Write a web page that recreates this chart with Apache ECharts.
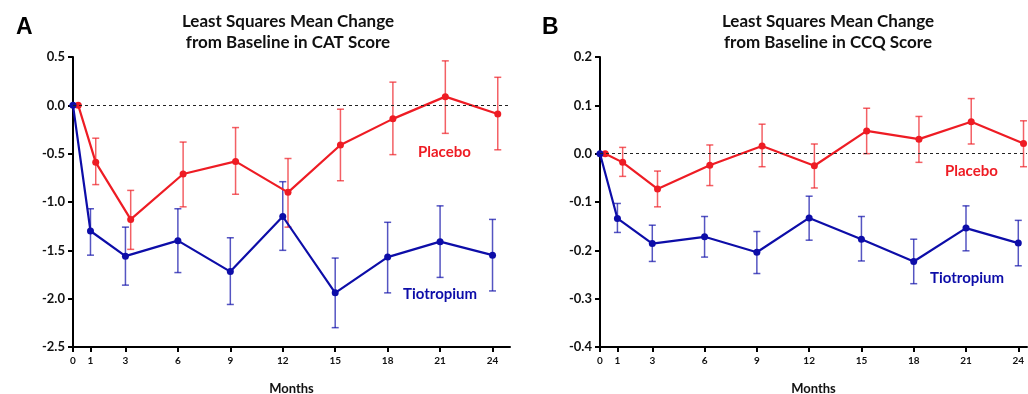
<!DOCTYPE html>
<html>
<head>
<meta charset="utf-8">
<script src="https://cdn.jsdelivr.net/npm/echarts@6/dist/echarts.min.js"></script>
<style>
  html, body { margin: 0; padding: 0; background: #fff; }
  #main { width: 1028px; height: 394px; }
</style>
</head>
<body>
<div id="main"></div>
<script>
// months of follow-up (placebo drawn slightly to the right, like the original plot)
var months = [0, 1, 3, 6, 9, 12, 15, 18, 21, 24];
var placeboShift = 0.3;

// panel A: CAT score
var catPlacebo     = [0, -0.59, -1.18, -0.71, -0.58, -0.90, -0.41, -0.14, 0.09, -0.09];
var catPlaceboLow  = [0, -0.82, -1.49, -1.05, -0.92, -1.26, -0.78, -0.51, -0.29, -0.46];
var catPlaceboHigh = [0, -0.34, -0.88, -0.38, -0.23, -0.55, -0.04, 0.24, 0.46, 0.29];
var catTio         = [0, -1.30, -1.56, -1.40, -1.72, -1.15, -1.94, -1.57, -1.41, -1.55];
var catTioLow      = [0, -1.55, -1.86, -1.73, -2.06, -1.50, -2.30, -1.94, -1.78, -1.92];
var catTioHigh     = [0, -1.07, -1.26, -1.07, -1.37, -0.79, -1.58, -1.21, -1.04, -1.18];

// panel B: CCQ score
var ccqPlacebo     = [0, -0.018, -0.073, -0.024, 0.016, -0.025, 0.047, 0.030, 0.066, 0.021];
var ccqPlaceboLow  = [0, -0.047, -0.110, -0.066, -0.027, -0.071, 0.000, -0.018, 0.020, -0.027];
var ccqPlaceboHigh = [0, 0.013, -0.036, 0.018, 0.061, 0.020, 0.094, 0.077, 0.114, 0.068];
var ccqTio         = [0, -0.134, -0.186, -0.172, -0.204, -0.133, -0.177, -0.223, -0.154, -0.185];
var ccqTioLow      = [0, -0.163, -0.223, -0.214, -0.248, -0.179, -0.222, -0.269, -0.201, -0.232];
var ccqTioHigh     = [0, -0.103, -0.148, -0.130, -0.161, -0.088, -0.130, -0.177, -0.108, -0.138];

var red = '#ee1c24';
var blue = '#0d0da8';
var font = 'Lato, "Open Sans", sans-serif';

function pairs(xs, ys, shift) {
  return xs.map(function (x, i) { return [x + shift, ys[i]]; });
}

function lineSeries(idx, ys, shift, color, withZeroLine) {
  var s = {
    type: 'line',
    xAxisIndex: idx, yAxisIndex: idx,
    data: pairs(months, ys, shift),
    symbol: 'circle', symbolSize: 7,
    lineStyle: { color: color, width: 2.2 },
    itemStyle: { color: color },
    z: 3
  };
  if (withZeroLine) {
    s.markLine = {
      silent: true, symbol: 'none', label: { show: false },
      lineStyle: { color: '#222', type: [3, 3], width: 1 },
      data: [{ yAxis: 0 }]
    };
  }
  return s;
}

function errorBars(idx, lows, highs, shift, color) {
  return {
    type: 'custom',
    xAxisIndex: idx, yAxisIndex: idx,
    data: months.map(function (m, i) { return [m + shift, lows[i], highs[i]]; }),
    encode: { x: 0, y: [1, 2] },
    renderItem: function (params, api) {
      var lo = api.coord([api.value(0), api.value(1)]);
      var hi = api.coord([api.value(0), api.value(2)]);
      var w = 3.5;
      var st = { stroke: color, lineWidth: 1.5, opacity: 0.7 };
      return {
        type: 'group',
        children: [
          { type: 'line', shape: { x1: hi[0], y1: hi[1], x2: lo[0], y2: lo[1] }, style: st },
          { type: 'line', shape: { x1: hi[0] - w, y1: hi[1], x2: hi[0] + w, y2: hi[1] }, style: st },
          { type: 'line', shape: { x1: lo[0] - w, y1: lo[1], x2: lo[0] + w, y2: lo[1] }, style: st }
        ]
      };
    },
    z: 2
  };
}

function xAxis(idx, max) {
  return {
    type: 'value', gridIndex: idx, min: 0, max: max,
    name: 'Months', nameLocation: 'middle', nameGap: 35,
    nameTextStyle: { fontFamily: font, fontWeight: 'bold', fontSize: 13, color: '#111' },
    axisLine: { show: true, onZero: false, lineStyle: { color: '#000', width: 2 } },
    axisTick: { show: true, length: 5, customValues: months, lineStyle: { color: '#000', width: 2 } },
    axisLabel: { customValues: months, fontFamily: font, fontWeight: 'bold', fontSize: 10, color: '#111', margin: 9 },
    splitLine: { show: false }
  };
}

function yAxis(idx, min, max, interval) {
  return {
    type: 'value', gridIndex: idx, min: min, max: max, interval: interval,
    axisLine: { show: true, onZero: false, lineStyle: { color: '#000', width: 2 } },
    axisTick: { show: true, length: 5, lineStyle: { color: '#000', width: 2 } },
    axisLabel: {
      fontFamily: font, fontWeight: 'bold', fontSize: 13, color: '#111', margin: 8,
      formatter: function (v) { return v.toFixed(1); }
    },
    splitLine: { show: false }
  };
}

var titleStyle = { fontFamily: font, fontWeight: 'bold', fontSize: 17, color: '#111', lineHeight: 21 };
var letterStyle = { fontFamily: 'Liberation Sans, Arial, sans-serif', fontWeight: 'bold', fontSize: 23, color: '#000' };
var tagFont = 'bold 15px Lato';

var option = {
  backgroundColor: '#fff',
  animation: false,
  title: [
    { text: 'A', left: 11, top: 11, textStyle: letterStyle },
    { text: 'B', left: 537, top: 11, textStyle: letterStyle },
    { text: 'Least Squares Mean Change\nfrom Baseline in CAT Score', left: 283, top: 6, textAlign: 'center', textStyle: titleStyle },
    { text: 'Least Squares Mean Change\nfrom Baseline in CCQ Score', left: 823, top: 6, textAlign: 'center', textStyle: titleStyle }
  ],
  grid: [
    { left: 73, top: 57, width: 437, height: 290, outerBoundsMode: 'none' },
    { left: 600, top: 57, width: 427, height: 290, outerBoundsMode: 'none' }
  ],
  xAxis: [xAxis(0, 25), xAxis(1, 24.5)],
  yAxis: [yAxis(0, -2.5, 0.5, 0.5), yAxis(1, -0.4, 0.2, 0.1)],
  graphic: [
    { type: 'text', left: 418, top: 145, style: { text: 'Placebo', fill: red, font: tagFont } },
    { type: 'text', left: 403, top: 287, style: { text: 'Tiotropium', fill: blue, font: tagFont } },
    { type: 'text', left: 945, top: 164, style: { text: 'Placebo', fill: red, font: tagFont } },
    { type: 'text', left: 930, top: 271, style: { text: 'Tiotropium', fill: blue, font: tagFont } }
  ],
  series: [
    errorBars(0, catPlaceboLow, catPlaceboHigh, placeboShift, red),
    errorBars(0, catTioLow, catTioHigh, 0, blue),
    lineSeries(0, catPlacebo, placeboShift, red, true),
    lineSeries(0, catTio, 0, blue, false),
    errorBars(1, ccqPlaceboLow, ccqPlaceboHigh, placeboShift, red),
    errorBars(1, ccqTioLow, ccqTioHigh, 0, blue),
    lineSeries(1, ccqPlacebo, placeboShift, red, true),
    lineSeries(1, ccqTio, 0, blue, false)
  ]
};

var chart = echarts.init(document.getElementById('main'));
chart.setOption(option);
</script>
</body>
</html>
